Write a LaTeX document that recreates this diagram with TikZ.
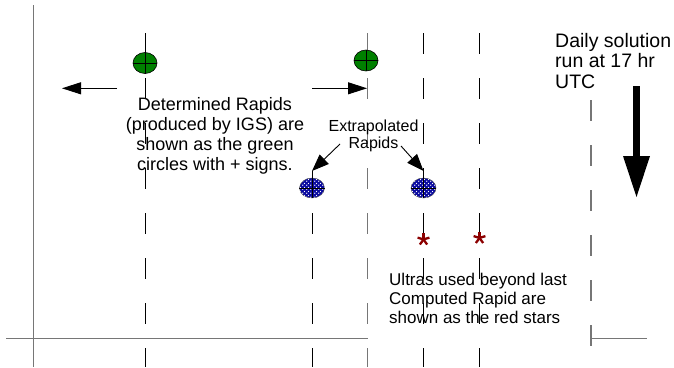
\documentclass[tikz,border=0pt]{standalone}
\usepackage{fontspec}
\setmainfont{Liberation Sans}
\usetikzlibrary{arrows.meta,patterns,shapes.geometric}
\definecolor{rapgreen}{RGB}{0,128,0}
\definecolor{axisgray}{RGB}{118,118,118}
\definecolor{stardark}{RGB}{140,0,0}
\definecolor{extblue}{RGB}{10,10,160}
\pgfdeclarepatternformonly{extdots}{\pgfqpoint{0pt}{0pt}}{\pgfqpoint{3.6pt}{3.6pt}}{\pgfqpoint{3.6pt}{3.6pt}}{%
  \pgfpathcircle{\pgfqpoint{0.9pt}{0.9pt}}{0.75pt}%
  \pgfpathcircle{\pgfqpoint{2.7pt}{2.7pt}}{0.75pt}%
  \pgfusepath{fill}}
\begin{document}
\begin{tikzpicture}[x=1pt,y=-1pt,
  axisline/.style={draw=axisgray,line width=1.6pt},
  timeline/.style={draw=black,line width=0.9pt,dash pattern=on 21pt off 24pt},
  grayline/.style={draw=axisgray,line width=1.3pt,dash pattern=on 21pt off 24pt},
  rapid/.style={ellipse,draw=black,line width=0.6pt,fill=rapgreen,minimum width=24pt,minimum height=21pt,inner sep=0pt},
  extrap/.style={ellipse,draw=black!70,line width=0.4pt,fill=extblue,postaction={pattern=extdots,pattern color=white},minimum width=25pt,minimum height=20pt,inner sep=0pt},
  crossline/.style={draw=black,line width=0.8pt},
  arr/.style={draw=black,line width=0.9pt,-{Triangle[length=19pt,width=12pt]}},
  earr/.style={draw=black,line width=0.9pt,-{Triangle[length=17pt,width=13pt]}},
  bigarr/.style={draw=black,line width=7pt,-{Triangle[length=41pt,width=27pt,line width=0pt]}},
  starline/.style={draw=stardark,line width=2.3pt},
  txt/.style={inner sep=0pt,text=black}
]
\useasboundingbox (0,0) rectangle (674,367);
% axes
\coordinate (vtop) at (33.5,5);
\coordinate (vbot) at (33.5,367);
\draw[axisline] (vtop) -- (vbot);
\coordinate (hl) at (6,338.5);
\coordinate (hr) at (368,338.5);
\draw[axisline] (hl) -- (hr);
% time lines
\coordinate (t1a) at (145,33);    \coordinate (t1b) at (145,367);
\coordinate (t2a) at (312,213);   \coordinate (t2b) at (312,367);
\coordinate (t3a) at (367.7,33);  \coordinate (t3b) at (367.7,367);
\coordinate (t4a) at (423.5,33);  \coordinate (t4b) at (423.5,367);
\coordinate (t5a) at (479.5,33);  \coordinate (t5b) at (479.5,367);
\coordinate (t6a) at (591,100);   \coordinate (t6b) at (591,347);
\coordinate (tickr) at (647,338.5);
\coordinate (tickl) at (591,338.5);
\draw[timeline] (t1a) -- (t1b);
\draw[timeline] (t2a) -- (t2b);
\draw[grayline] (t3a) -- (t3b);
\draw[timeline] (t4a) -- (t4b);
\draw[timeline] (t5a) -- (t5b);
\draw[grayline] (t6a) -- (t6b);
\draw[axisline] (tickl) -- (tickr);
% determined rapids
\node[rapid] (g1) at (145,63) {};
\node[rapid] (g2) at (366,60.5) {};
\draw[crossline] (g1.north) -- (g1.south) (g1.west) -- (g1.east);
\draw[crossline] (g2.north) -- (g2.south) (g2.west) -- (g2.east);
% extrapolated rapids
\node[extrap] (b1) at (312,188) {};
\node[extrap] (b2) at (423.5,188) {};
\draw[crossline] (b1.north) -- (b1.south) (b1.west) -- (b1.east);
\draw[crossline] (b2.north) -- (b2.south) (b2.west) -- (b2.east);
% horizontal arrows
\coordinate (la0) at (117,88.3); \coordinate (la1) at (62,88.3);
\coordinate (ra0) at (312,88.3); \coordinate (ra1) at (367,88.3);
\draw[arr] (la0) -- (la1);
\draw[arr] (ra0) -- (ra1);
% texts
\node[txt,align=center,anchor=north,font=\fontsize{18}{20}\selectfont] (det) at (215,97.5)
  {Determined Rapids\\(produced by IGS) are\\shown as the green\\circles with + signs.};
\node[txt,align=center,anchor=north,font=\fontsize{16}{16.5}\selectfont] (ext) at (373.5,120)
  {Extrapolated\\Rapids};
\node[txt,align=left,anchor=north west,font=\fontsize{19.5}{20.5}\selectfont] (daily) at (555,33)
  {Daily solution\\run at 17 hr\\UTC};
\node[txt,align=left,anchor=north west,font=\fontsize{17}{19}\selectfont] (ult) at (389,272.5)
  {Ultras used beyond last\\Computed Rapid are\\shown as the red stars};
% extrapolated arrows
\coordinate (e1s) at (340,144); \coordinate (e1t) at (312,171);
\coordinate (e2s) at (401,146); \coordinate (e2t) at (423.5,171);
\draw[earr] (e1s) -- (e1t);
\draw[earr] (e2s) -- (e2t);
\draw[crossline] (e1t) -- (b1.north);
\draw[crossline] (e2t) -- (b2.north);
% stars
\coordinate (s1) at (423.5,239.5);
\coordinate (s2) at (479.5,238);
\foreach \a in {-90,-18,54,126,198}{
  \draw[starline] (s1) -- ++(\a:6.2);
  \draw[starline] (s2) -- ++(\a:6.2);
}
% daily run arrow
\coordinate (bt) at (636.5,86);
\coordinate (bb) at (636.5,197);
\draw[bigarr] (bt) -- (bb);
\end{tikzpicture}
\end{document}
